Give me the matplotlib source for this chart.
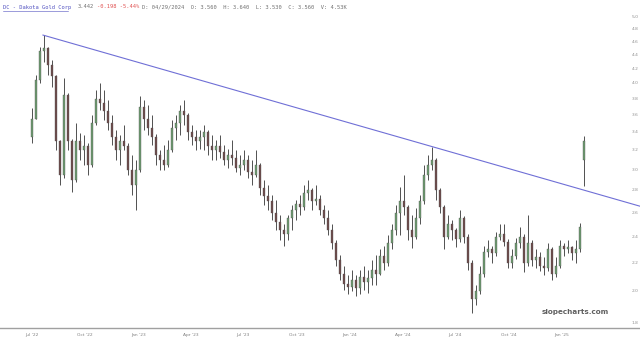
import numpy as np
import pandas as pd
import matplotlib
matplotlib.use("Agg")
import matplotlib.pyplot as plt
import matplotlib.dates as mdates
from matplotlib.transforms import blended_transform_factory
from matplotlib.lines import Line2D

# weekly bars, DC - Dakota Gold Corp
first_date = "2022-07-01"
last_date = "2025-02-08"

opens = [3.35, 3.55, 4.05, 4.45, 4.50, 4.25, 4.10, 3.30, 2.95, 3.85,
         3.30, 2.90, 3.30, 3.20, 3.25, 3.05, 3.50, 3.80, 3.75, 3.65,
         3.50, 3.35, 3.20, 3.30, 3.25, 3.00, 2.85, 3.00, 3.70, 3.55,
         3.45, 3.35, 3.15, 3.10, 3.05, 3.20, 3.45, 3.50, 3.65, 3.60,
         3.40, 3.35, 3.30, 3.35, 3.40, 3.25, 3.20, 3.25, 3.18, 3.10,
         3.15, 3.12, 3.02, 3.05, 3.10, 2.98, 2.95, 3.05, 2.82, 2.75,
         2.70, 2.60, 2.52, 2.45, 2.42, 2.55, 2.62, 2.68, 2.65, 2.78,
         2.80, 2.70, 2.72, 2.62, 2.55, 2.45, 2.35, 2.22, 2.12, 2.05,
         2.03, 2.08, 2.02, 2.10, 2.06, 2.09, 2.15, 2.12, 2.25, 2.20,
         2.35, 2.45, 2.60, 2.70, 2.65, 2.45, 2.40, 2.55, 2.70, 2.95,
         3.05, 3.10, 2.80, 2.65, 2.40, 2.50, 2.45, 2.38, 2.55, 2.40,
         2.20, 1.95, 2.00, 2.12, 2.28, 2.30, 2.27, 2.40, 2.42, 2.36,
         2.20, 2.25, 2.35, 2.40, 2.20, 2.35, 2.22, 2.24, 2.18, 2.16,
         2.30, 2.12, 2.18, 2.33, 2.30, 2.32, 2.27, 2.30, 3.10]
highs = [3.69, 4.11, 4.52, 4.70, 4.52, 4.33, 4.12, 3.31, 4.08, 3.88,
         3.32, 3.50, 3.39, 3.37, 3.28, 3.60, 3.91, 4.00, 3.91, 3.79,
         3.60, 3.42, 3.37, 3.48, 3.28, 3.15, 3.10, 3.83, 3.79, 3.72,
         3.60, 3.38, 3.20, 3.26, 3.31, 3.54, 3.60, 3.72, 3.79, 3.62,
         3.48, 3.42, 3.42, 3.48, 3.42, 3.37, 3.31, 3.37, 3.26, 3.22,
         3.31, 3.20, 3.15, 3.20, 3.15, 3.10, 3.20, 3.07, 2.90, 2.85,
         2.76, 2.71, 2.58, 2.50, 2.58, 2.67, 2.71, 2.76, 2.85, 2.90,
         2.82, 2.85, 2.76, 2.67, 2.62, 2.50, 2.37, 2.26, 2.18, 2.11,
         2.15, 2.11, 2.15, 2.18, 2.15, 2.22, 2.26, 2.30, 2.33, 2.41,
         2.50, 2.67, 2.83, 2.95, 2.67, 2.58, 2.64, 2.76, 3.05, 3.15,
         3.24, 3.12, 2.82, 2.67, 2.58, 2.54, 2.47, 2.62, 2.57, 2.42,
         2.22, 2.04, 2.18, 2.33, 2.37, 2.33, 2.44, 2.50, 2.50, 2.38,
         2.30, 2.39, 2.48, 2.42, 2.58, 2.37, 2.30, 2.28, 2.24, 2.35,
         2.32, 2.24, 2.37, 2.35, 2.37, 2.33, 2.37, 2.51, 3.36]
lows = [3.28, 3.55, 4.00, 4.30, 4.11, 3.95, 3.20, 2.85, 2.92, 3.20,
        2.79, 2.88, 3.10, 3.05, 2.95, 3.03, 3.48, 3.66, 3.54, 3.42,
        3.26, 3.10, 3.05, 3.20, 2.95, 2.76, 2.62, 2.98, 3.42, 3.37,
        3.26, 3.05, 3.00, 3.00, 3.03, 3.18, 3.31, 3.37, 3.48, 3.31,
        3.26, 3.20, 3.22, 3.20, 3.15, 3.10, 3.10, 3.12, 3.05, 3.02,
        3.05, 2.98, 2.95, 3.00, 2.92, 2.85, 2.93, 2.76, 2.67, 2.62,
        2.54, 2.45, 2.37, 2.33, 2.37, 2.45, 2.54, 2.58, 2.62, 2.71,
        2.62, 2.67, 2.58, 2.50, 2.41, 2.30, 2.18, 2.08, 2.01, 1.98,
        2.00, 1.97, 1.98, 2.01, 1.99, 2.04, 2.04, 2.11, 2.15, 2.18,
        2.30, 2.41, 2.41, 2.58, 2.37, 2.31, 2.38, 2.50, 2.68, 2.90,
        3.00, 2.71, 2.60, 2.30, 2.38, 2.37, 2.32, 2.36, 2.35, 2.15,
        1.86, 1.91, 1.98, 2.10, 2.24, 2.20, 2.25, 2.37, 2.33, 2.16,
        2.16, 2.23, 2.31, 2.13, 2.18, 2.18, 2.16, 2.14, 2.11, 2.14,
        2.08, 2.10, 2.16, 2.25, 2.27, 2.22, 2.20, 2.28, 2.84]
closes = [3.55, 4.05, 4.45, 4.50, 4.25, 4.10, 3.30, 2.95, 3.85, 3.30,
          2.90, 3.30, 3.20, 3.25, 3.05, 3.50, 3.80, 3.75, 3.65, 3.50,
          3.35, 3.20, 3.30, 3.25, 3.00, 2.85, 3.00, 3.70, 3.55, 3.45,
          3.35, 3.15, 3.10, 3.05, 3.20, 3.45, 3.50, 3.65, 3.60, 3.40,
          3.35, 3.30, 3.35, 3.40, 3.25, 3.20, 3.25, 3.18, 3.10, 3.15,
          3.12, 3.02, 3.05, 3.10, 2.98, 2.95, 3.05, 2.82, 2.75, 2.70,
          2.60, 2.52, 2.45, 2.42, 2.55, 2.62, 2.68, 2.65, 2.78, 2.80,
          2.70, 2.72, 2.62, 2.55, 2.45, 2.35, 2.22, 2.12, 2.05, 2.03,
          2.08, 2.02, 2.10, 2.06, 2.09, 2.15, 2.12, 2.25, 2.20, 2.35,
          2.45, 2.60, 2.70, 2.65, 2.45, 2.40, 2.55, 2.70, 2.95, 3.05,
          3.10, 2.80, 2.65, 2.40, 2.50, 2.45, 2.38, 2.55, 2.40, 2.20,
          1.95, 2.00, 2.12, 2.28, 2.30, 2.27, 2.40, 2.42, 2.36, 2.20,
          2.25, 2.35, 2.40, 2.20, 2.35, 2.22, 2.24, 2.18, 2.16, 2.30,
          2.12, 2.18, 2.33, 2.30, 2.32, 2.27, 2.30, 2.48, 3.30]

# trendline anchors (date, price)
trend_dates = ["2022-07-20", "2024-05-22"]
trend_prices = [4.70, 3.24]

month_ticks = ["2022-07-01", "2022-10-01", "2023-01-01", "2023-04-01",
               "2023-07-01", "2023-10-01", "2024-01-01", "2024-04-01",
               "2024-07-01", "2024-10-01", "2025-01-01"]
month_labels = ["Jul '22", "Oct '22", "Jan '23", "Apr '23", "Jul '23",
                "Oct '23", "Jan '24", "Apr '24", "Jul '24", "Oct '24",
                "Jan '25"]
price_ticks = [1.8, 2.0, 2.2, 2.4, 2.6, 2.8, 3.0, 3.2, 3.4, 3.6, 3.8,
               4.0, 4.2, 4.4, 4.6, 4.8, 5.0]

up_color = "#6e9c70"
down_color = "#6e4a4a"
wick_color = "#505050"


def draw_candles(ax, t, o, h, l, c, width=4.6):
    o, h, l, c = map(np.asarray, (o, h, l, c))
    ax.vlines(t, l, h, color=wick_color, linewidth=0.7, zorder=2)
    up = c >= o
    colors = np.where(up, up_color, down_color)
    bottoms = np.minimum(o, c)
    heights = np.maximum(np.abs(c - o), 0.004)
    ax.bar(t, heights, width=width, bottom=bottoms, color=colors,
           edgecolor=wick_color, linewidth=0.25, zorder=3)


fig = plt.figure(figsize=(6.4, 3.43), dpi=100)
ax = fig.add_axes([0, 15 / 343, 1, 328 / 343])

t = mdates.date2num(pd.date_range(first_date, last_date, periods=len(closes)))
t_start = mdates.date2num(pd.Timestamp(first_date))
xmin = t_start - 55.2
xmax = t_start + 1049.7

draw_candles(ax, t, opens, highs, lows, closes)

ax.set_yscale("log")
ax.set_ylim(1.770, 5.283)
ax.set_xlim(xmin, xmax)

# trendline, straight in log space, extended to the right edge
td = mdates.date2num(pd.to_datetime(trend_dates))
slope = (np.log(trend_prices[1]) - np.log(trend_prices[0])) / (td[1] - td[0])
end_price = trend_prices[0] * np.exp(slope * (xmax - td[0]))
ax.plot([td[0], xmax], [trend_prices[0], end_price], color="#6f6fd6",
        linewidth=0.8, zorder=4)

for side in ["top", "left", "right"]:
    ax.spines[side].set_visible(False)
ax.spines["bottom"].set_color("#a0a0a0")
ax.spines["bottom"].set_linewidth(1.0)

ax.yaxis.set_major_locator(matplotlib.ticker.NullLocator())
ax.yaxis.set_minor_locator(matplotlib.ticker.NullLocator())
ax.set_xticks(mdates.date2num(pd.to_datetime(month_ticks)))
ax.set_xticklabels(month_labels)
ax.tick_params(axis="x", length=0, pad=3.5, labelsize=3.2, labelcolor="#808080")

tr = blended_transform_factory(ax.transAxes, ax.transData)
for p in price_ticks:
    ax.text(635 / 640, p, "%.1f" % p, transform=tr, ha="center", va="center",
            fontsize=3.2, color="#909090")

ax.text(575 / 640, 1.87, "slopecharts.com", transform=tr, ha="center",
        va="center", fontsize=5.2, fontweight="bold", color="#606060")

# header line
hy = 1 - 7 / 343
mono = "DejaVu Sans Mono"
fig.text(3 / 640, hy, "DC - Dakota Gold Corp", family=mono, fontsize=3.9,
         color="#5050c0", va="center")
fig.add_artist(Line2D([3 / 640, 68 / 640], [1 - 10.5 / 343] * 2,
                      color="#5050c0", linewidth=0.4))
fig.text(78 / 640, hy, "3.442", family=mono, fontsize=3.9, color="#707070",
         va="center")
fig.text(97 / 640, hy, "-0.198 -5.44%", family=mono, fontsize=3.9,
         color="#e05050", va="center")
fig.text(142 / 640, hy, "D: 04/29/2024  O: 3.560  H: 3.640  L: 3.530  C: 3.560  V: 4.53K",
         family=mono, fontsize=3.9, color="#707070", va="center")

fig.savefig("out.png", dpi=100)
